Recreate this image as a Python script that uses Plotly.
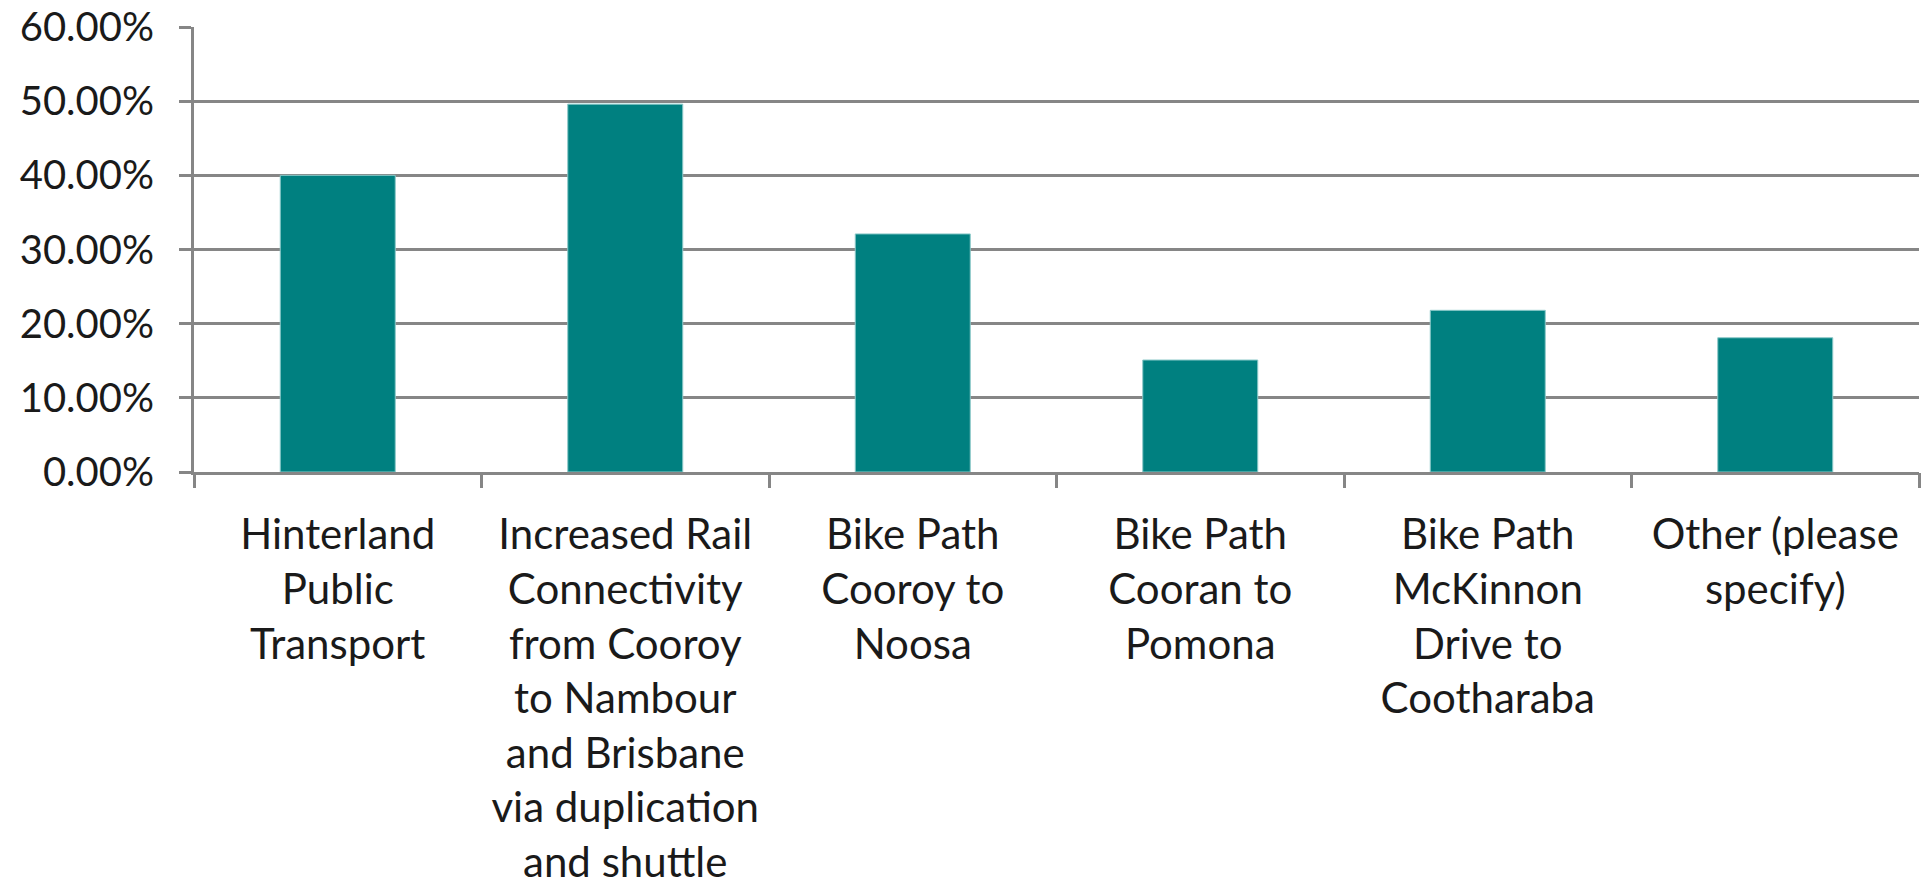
import plotly.graph_objects as go

categories = [
    "Hinterland<br>Public<br>Transport",
    "Increased Rail<br>Connectivity<br>from Cooroy<br>to Nambour<br>and Brisbane<br>via duplication<br>and shuttle",
    "Bike Path<br>Cooroy to<br>Noosa",
    "Bike Path<br>Cooran to<br>Pomona",
    "Bike Path<br>McKinnon<br>Drive to<br>Cootharaba",
    "Other (please<br>specify)",
]
values = [0.400, 0.496, 0.321, 0.151, 0.218, 0.181]
y_ticks = [0.0, 0.1, 0.2, 0.3, 0.4, 0.5, 0.6]

GRID = "#868686"
XFONT = dict(family="Lato, Calibri, sans-serif", size=42, color="#1a1a1a")
YFONT = dict(family="Lato, Calibri, sans-serif", size=40, color="#1a1a1a")

fig = go.Figure(
    go.Bar(
        x=list(range(len(categories))),
        y=values,
        marker=dict(color="#008080", line=dict(color="#8cc9c9", width=1)),
        width=0.4,
    )
)

fig.update_layout(
    width=1923,
    height=893,
    margin=dict(l=194, r=4, t=27, b=421, autoexpand=False),
    plot_bgcolor="white",
    paper_bgcolor="white",
    showlegend=False,
)

fig.update_xaxes(
    type="linear",
    range=[-0.5, len(categories) - 0.5],
    tickmode="array",
    tickvals=list(range(len(categories))),
    ticktext=categories,
    showgrid=False,
    showline=True,
    linecolor=GRID,
    linewidth=3,
    ticks="",
    tickfont=XFONT,
    ticklabelstandoff=24,
    zeroline=False,
    automargin=False,
)

# boundary ticks drawn via a secondary overlay axis
fig.update_layout(
    xaxis2=dict(
        overlaying="x",
        anchor="y",
        side="bottom",
        range=[-0.5, len(categories) - 0.5],
        tickmode="array",
        tickvals=[i - 0.5 for i in range(len(categories) + 1)],
        ticktext=[""] * (len(categories) + 1),
        ticks="outside",
        ticklen=15,
        tickwidth=3,
        tickcolor=GRID,
        showgrid=False,
        showline=False,
        zeroline=False,
        showticklabels=False,
        automargin=False,
    )
)
fig.add_trace(go.Scatter(x=[0], y=[None], xaxis="x2", yaxis="y", showlegend=False, hoverinfo="skip"))

fig.update_yaxes(
    range=[0, 0.6],
    tickmode="array",
    tickvals=y_ticks,
    tickformat=".2%",
    showgrid=True,
    gridcolor=GRID,
    gridwidth=3,
    showline=True,
    linecolor=GRID,
    linewidth=3,
    ticks="outside",
    ticklen=12,
    tickwidth=3,
    tickcolor=GRID,
    tickfont=YFONT,
    ticklabelstandoff=17,
    zeroline=False,
    automargin=False,
)

fig.write_html(
    "out.html",
    config={"displayModeBar": False},
    post_script="document.body.style.margin='0';document.body.style.overflow='hidden';",
)
